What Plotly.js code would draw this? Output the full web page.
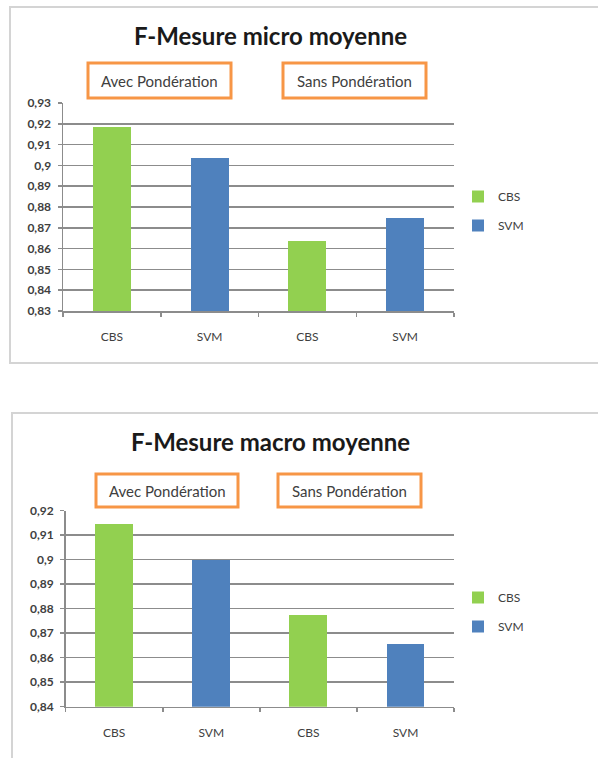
<!DOCTYPE html>
<html>
<head>
<meta charset="utf-8">
<script src="https://cdn.plot.ly/plotly-3.0.1.min.js"></script>
<style>html,body{margin:0;padding:0;background:#fff;}#chart{width:598px;height:758px;}</style>
</head>
<body>
<div id="chart"></div>
<script>
// ---- data ----
const categories = ['CBS', 'SVM', 'CBS', 'SVM'];
const groupLabels = ['Avec Pondération', 'Sans Pondération'];
const seriesNames = ['CBS', 'SVM'];
const microCBS = [0.9183, 0.8638];
const microSVM = [0.9037, 0.8749];
const macroCBS = [0.9146, 0.8774];
const macroSVM = [0.8999, 0.8655];
const microTitle = 'F-Mesure micro moyenne';
const macroTitle = 'F-Mesure macro moyenne';
const microRange = [0.83, 0.93];
const macroRange = [0.84, 0.92];

// ---- style ----
const W = 598, H = 758;
const GREEN = '#92D050', BLUE = '#4F81BD', ORANGE = '#F79646';
const GRID = '#8C8C8C', TXT = '#404040';
const FONT = 'Lato, "Open Sans", sans-serif';
const px = x => x / W;
const py = y => 1 - y / H;

const idx = categories.map((c, i) => i);
const cbsX = idx.filter(i => categories[i] === seriesNames[0]);
const svmX = idx.filter(i => categories[i] === seriesNames[1]);

function bar(name, xs, ys, color, xa, ya, legend) {
  return {
    type: 'bar', name: name, x: xs, y: ys, xaxis: xa, yaxis: ya,
    width: 0.39, marker: {color: color, line: {width: 0}},
    legend: legend, showlegend: true, legendgroup: name + legend,
    hoverinfo: 'skip'
  };
}

const data = [
  bar(seriesNames[0], cbsX, microCBS, GREEN, 'x', 'y', 'legend'),
  bar(seriesNames[1], svmX, microSVM, BLUE, 'x', 'y', 'legend'),
  bar(seriesNames[0], cbsX, macroCBS, GREEN, 'x2', 'y2', 'legend2'),
  bar(seriesNames[1], svmX, macroSVM, BLUE, 'x2', 'y2', 'legend2')
];

function xaxis(domain, anchor) {
  return {
    domain: domain, anchor: anchor, range: [-0.5, categories.length - 0.5],
    tickmode: 'array', tickvals: idx, ticktext: categories,
    ticks: '', showgrid: false, zeroline: false,
    showline: true, linecolor: GRID, linewidth: 1.5,
    tickfont: {family: FONT, size: 12, color: TXT},
    ticklabelstandoff: 14,
    minor: {tickmode: 'array', tickvals: [-0.5, 0.5, 1.5, 2.5, 3.5], ticks: 'outside', ticklen: 4, tickcolor: GRID, tickwidth: 1.5, showgrid: false},
    fixedrange: true
  };
}
function yaxis(domain, anchor, range) {
  return {
    domain: domain, anchor: anchor, range: range, dtick: 0.01, tick0: range[0],
    ticks: 'outside', ticklen: 4, tickcolor: GRID, tickwidth: 1.5,
    showgrid: true, gridcolor: GRID, gridwidth: 1.5, zeroline: false,
    showline: true, linecolor: GRID, linewidth: 1.5,
    tickfont: {family: FONT, size: 12, color: TXT, weight: 'bold'},
    ticklabelstandoff: 4,
    fixedrange: true
  };
}

const boxes = [
  [88, 63, 231, 98], [283, 63, 426, 98],
  [96, 474, 238, 507], [278, 474, 421, 507]
];
const shapes = [
  {type: 'rect', xref: 'paper', yref: 'paper', x0: px(10), x1: px(610), y0: py(7), y1: py(363), line: {color: '#D4D4D4', width: 2}, layer: 'below'},
  {type: 'rect', xref: 'paper', yref: 'paper', x0: px(12), x1: px(610), y0: py(413), y1: py(775), line: {color: '#D4D4D4', width: 2}, layer: 'below'}
];
const annotations = [
  {text: '<b>' + microTitle + '</b>', x: px(270), y: py(35), xref: 'paper', yref: 'paper', xanchor: 'center', yanchor: 'middle', showarrow: false, font: {family: FONT, size: 24, color: '#1A1A1A'}},
  {text: '<b>' + macroTitle + '</b>', x: px(270), y: py(441), xref: 'paper', yref: 'paper', xanchor: 'center', yanchor: 'middle', showarrow: false, font: {family: FONT, size: 24, color: '#1A1A1A'}}
];
boxes.forEach((b, i) => {
  shapes.push({type: 'rect', xref: 'paper', yref: 'paper', x0: px(b[0]), x1: px(b[2]), y0: py(b[1]), y1: py(b[3]), line: {color: ORANGE, width: 3}});
  annotations.push({text: groupLabels[i % 2], x: px((b[0] + b[2]) / 2), y: py((b[1] + b[3]) / 2), xref: 'paper', yref: 'paper', xanchor: 'center', yanchor: 'middle', showarrow: false, font: {family: FONT, size: 15, color: TXT}});
});

function legend(yTop) {
  return {x: px(458), y: py(yTop), xanchor: 'left', yanchor: 'top', bgcolor: 'rgba(0,0,0,0)',
    font: {family: FONT, size: 12, color: TXT}, tracegroupgap: 10, itemwidth: 30, traceorder: 'grouped'};
}

const layout = {
  width: W, height: H, margin: {l: 0, r: 0, t: 0, b: 0},
  paper_bgcolor: '#FFFFFF', plot_bgcolor: '#FFFFFF',
  separators: ', ', barmode: 'overlay', bargap: 0,
  font: {family: FONT, color: TXT},
  xaxis: xaxis([px(63), px(454)], 'y'),
  yaxis: yaxis([py(311), py(103)], 'x', microRange),
  xaxis2: xaxis([px(65.7), px(454)], 'y2'),
  yaxis2: yaxis([py(706.7), py(510.7)], 'x2', macroRange),
  legend: legend(182),
  legend2: legend(583),
  shapes: shapes, annotations: annotations
};

Plotly.newPlot('chart', data, layout, {staticPlot: true, displayModeBar: false});
</script>
</body>
</html>
